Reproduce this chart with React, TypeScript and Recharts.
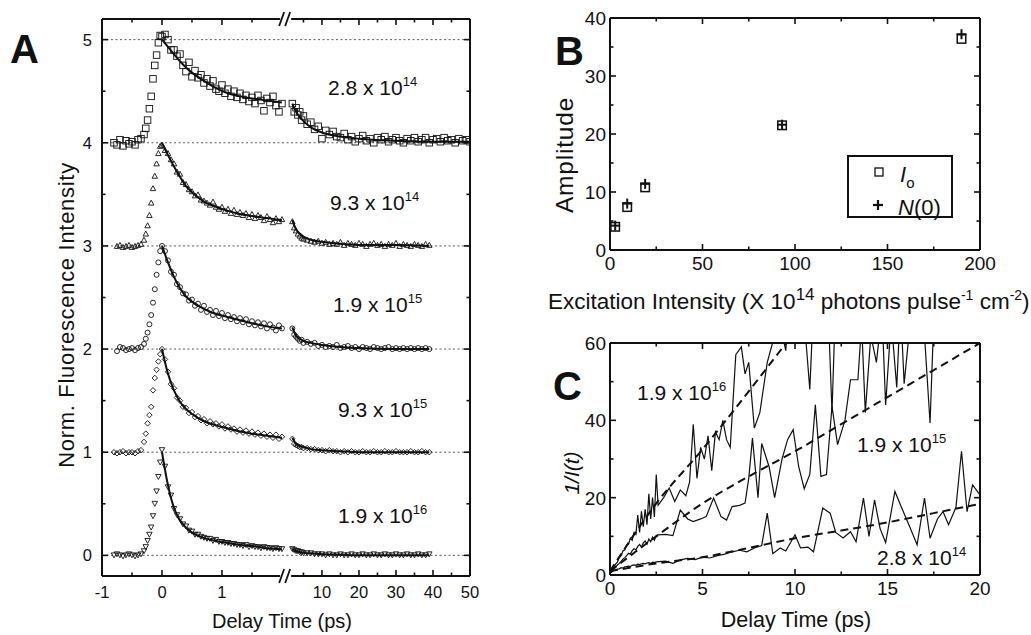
import React from 'react'
import { ComposedChart, Scatter, Line, XAxis, YAxis, ReferenceLine, ReferenceDot } from 'recharts'

const FONT = '"Liberation Sans", Arial, Helvetica, sans-serif'
const INK = '#111'

// ---------- panel A: normalized fluorescence decays (offset by 1 each) ----------
// delay times (ps) of the left, linear part of the broken axis
const A_T_LEFT = [
  -0.8, -0.75, -0.7, -0.65, -0.6, -0.55, -0.5, -0.45, -0.4, -0.35,
  -0.3, -0.27, -0.24, -0.21, -0.18, -0.15, -0.12, -0.09, -0.06, -0.03,
  0,
  0.05, 0.1, 0.15, 0.2, 0.25, 0.3, 0.35, 0.4, 0.45, 0.5,
  0.55, 0.6, 0.65, 0.7, 0.75, 0.8, 0.85, 0.9, 0.95, 1,
  1.05, 1.1, 1.15, 1.2, 1.25, 1.3, 1.35, 1.4, 1.45, 1.5,
  1.55, 1.6, 1.65, 1.7, 1.75, 1.8, 1.85, 1.9, 1.95, 2,
]
// delay times (ps) of the compressed part after the break
const A_T_RIGHT = [
  2, 2.5, 3, 3.5, 4, 4.5, 5, 6, 7, 8, 9, 10, 11, 12, 13, 14, 15, 16, 17, 18, 19, 20,
  21, 22, 23, 24, 25, 26, 27, 28, 29, 30, 31, 32, 33, 34, 35, 36, 37, 38, 39,
  40, 41, 42, 43, 44, 45, 46, 47, 48, 49, 50,
]
const A_FIT_T_LEFT = [0, 0.1, 0.2, 0.3, 0.4, 0.5, 0.7, 0.9, 1.1, 1.3, 1.5, 1.75, 2]
const A_FIT_T_RIGHT = [2, 3, 4, 5, 7, 10, 15, 20, 30, 39, 50]

const A_28E14_L = [
  4.0, 3.98, 4.03, 3.97, 4.02, 3.99, 4.01, 3.98, 4.03, 4.04,
  4.08, 4.14, 4.22, 4.33, 4.45, 4.62, 4.75, 4.85, 4.97, 5.04,
  5.03,
  5.05, 5.0, 4.9, 4.9, 4.84, 4.86, 4.75, 4.69, 4.78, 4.64,
  4.7, 4.63, 4.66, 4.58, 4.62, 4.55, 4.6, 4.52, 4.5, 4.56,
  4.48, 4.52, 4.45, 4.5, 4.44, 4.48, 4.42, 4.46, 4.4, 4.44,
  4.38, 4.46, 4.41, 4.31, 4.43, 4.39, 4.45, 4.36, 4.3, 4.38,
]
const A_28E14_R = [
  4.38, 4.3, 4.34, 4.27, 4.3, 4.22, 4.26, 4.18, 4.2, 4.13, 4.16, 4.04, 4.12, 4.08, 4.11, 4.06,
  4.05, 4.09, 4.03, 4.06, 4.01, 4.04, 4.07, 4.02, 4.04, 4.0, 4.05, 4.03, 4.06, 4.01, 4.03, 4.05,
  4.02, 4.0, 4.04, 4.02, 4.05, 4.01, 4.03, 4.05, 4.0, 4.03, 4.04, 4.01, 4.05, 4.02, 4.03, 4.0,
  4.04, 4.02, 4.03, 4.01,
]
const A_93E14_L = [
  null, 3.0, 3.01, 2.99, 3.0, 3.01, 2.99, 3.0, 3.01, 3.02,
  3.06, 3.12, 3.2, 3.3, 3.42, 3.56, 3.68, 3.8, 3.9, 3.97,
  3.98,
  3.93, 3.9, 3.84, 3.8, 3.72, 3.7, 3.62, 3.6, 3.55, 3.53,
  3.49, 3.5, 3.45, 3.44, 3.42, 3.4, 3.43, 3.38, 3.36, 3.38,
  3.34, 3.36, 3.32, 3.35, 3.31, 3.33, 3.3, 3.32, 3.28, 3.31,
  3.27, 3.3, 3.28, 3.25, 3.29, 3.26, 3.23, 3.27, 3.24, 3.26,
]
const A_93E14_R = [
  3.24, 3.18, 3.15, 3.12, 3.1, 3.08, 3.07, 3.06, 3.05, 3.04, 3.05, 3.03, 3.04, 3.02, 3.03, 3.02,
  3.04, 3.01, 3.03, 3.02, 3.01, 3.03, 3.02, 3.0, 3.02, 3.03, 3.01, 3.02, 3.0, 3.02, 3.01, 3.03,
  3.0, 3.02, 3.01, 3.0, 3.02, 3.01, 3.0, 3.02, 3.01,
]
const A_19E15_L = [
  null, 1.98, 2.02, 2.01, 1.99, 2.0, 2.01, 1.99, 2.01, 2.02,
  2.05, 2.1, 2.16, 2.24, 2.33, 2.45, 2.58, 2.72, 2.84, 2.95,
  3.0,
  2.95, 2.86, 2.75, 2.72, 2.63, 2.6, 2.54, 2.53, 2.47, 2.48,
  2.42, 2.44, 2.38, 2.42, 2.36, 2.38, 2.33, 2.37, 2.32, 2.35,
  2.3, 2.33, 2.29, 2.31, 2.27, 2.3, 2.26, 2.29, 2.24, 2.27,
  2.23, 2.26, 2.22, 2.25, 2.2, 2.24, 2.21, 2.18, 2.23, 2.2,
]
const A_19E15_R = [
  2.2, 2.14, 2.12, 2.1, 2.08, 2.09, 2.06, 2.07, 2.05, 2.06, 2.03, 2.04, 2.02, 2.03, 2.02, 2.04,
  2.01, 2.02, 2.03, 2.01, 2.02, 2.0, 2.02, 2.01, 2.0, 2.02, 2.01, 2.0, 2.01, 2.02, 2.0, 2.01,
  2.0, 2.01, 2.0, 2.01, 2.0, 2.01, 2.0, 2.01, 2.0,
]
const A_93E15_L = [
  1.0, 0.99, 1.0, 1.01, 0.99, 1.0, 1.0, 0.99, 1.01, 1.02,
  1.1, 1.18, 1.28, 1.36, 1.44, 1.6, 1.72, 1.8, 1.88, 1.95,
  2.0,
  1.9, 1.78, 1.66, 1.62, 1.53, 1.5, 1.44, 1.43, 1.38, 1.39,
  1.34, 1.35, 1.31, 1.32, 1.28, 1.3, 1.27, 1.28, 1.25, 1.27,
  1.23, 1.25, 1.22, 1.23, 1.2, 1.22, 1.19, 1.21, 1.18, 1.2,
  1.17, 1.19, 1.16, 1.18, 1.15, 1.17, 1.14, 1.17, 1.13, 1.15,
]
const A_93E15_R = [
  1.13, 1.08, 1.07, 1.06, 1.05, 1.05, 1.04, 1.04, 1.03, 1.03, 1.02, 1.02, 1.01, 1.02, 1.01, 1.01,
  1.0, 1.01, 1.0, 1.01, 1.0, 1.0, 1.01, 1.0, 1.0, 1.01, 1.0, 1.0, 1.01, 1.0, 1.0, 1.01,
  1.0, 1.0, 1.0, 1.01, 1.0, 1.0, 1.01, 1.0, 1.0,
]
const A_19E16_L = [
  0.0, 0.01, 0.0, -0.01, 0.0, 0.01, 0.0, -0.01, 0.0, 0.01,
  0.04, 0.08, 0.14, 0.2, 0.27, 0.38, 0.5, 0.62, 0.76, 0.9,
  1.02,
  0.86, 0.66, 0.58, 0.45, 0.39, 0.35, 0.3, 0.28, 0.24, 0.23,
  0.2, 0.2, 0.18, 0.17, 0.16, 0.16, 0.14, 0.15, 0.13, 0.13,
  0.12, 0.12, 0.11, 0.11, 0.1, 0.1, 0.09, 0.1, 0.08, 0.09,
  0.08, 0.08, 0.07, 0.08, 0.07, 0.07, 0.06, 0.07, 0.06, 0.06,
]
const A_19E16_R = [
  0.06, 0.05, 0.04, 0.04, 0.03, 0.03, 0.02, 0.02, 0.02, 0.01, 0.01, 0.01, 0.0, 0.01, 0.0, 0.0,
  0.01, 0.0, 0.0, 0.01, 0.0, 0.0, 0.01, 0.0, 0.0, 0.01, 0.0, 0.0, 0.01, 0.0, 0.0, 0.01,
  0.0, 0.0, 0.01, 0.0, 0.0, 0.01, 0.0, 0.0, 0.01,
]

const A_FIT_28E14_L = [5.0, 4.93, 4.86, 4.79, 4.73, 4.68, 4.6, 4.53, 4.48, 4.45, 4.43, 4.41, 4.39]
const A_FIT_28E14_R = [4.38, 4.3, 4.25, 4.21, 4.15, 4.1, 4.06, 4.04, 4.02, 4.01, 4.01]
const A_FIT_93E14_L = [4.0, 3.88, 3.77, 3.67, 3.58, 3.52, 3.43, 3.38, 3.34, 3.31, 3.29, 3.27, 3.25]
const A_FIT_93E14_R = [3.25, 3.16, 3.12, 3.09, 3.06, 3.04, 3.02, 3.01, 3.01, 3.0]
const A_FIT_19E15_L = [3.0, 2.84, 2.7, 2.59, 2.51, 2.46, 2.39, 2.34, 2.31, 2.28, 2.25, 2.22, 2.2]
const A_FIT_19E15_R = [2.21, 2.13, 2.1, 2.08, 2.06, 2.04, 2.02, 2.01, 2.0, 2.0]
const A_FIT_93E15_L = [2.0, 1.76, 1.6, 1.49, 1.42, 1.37, 1.3, 1.26, 1.23, 1.2, 1.18, 1.16, 1.14]
const A_FIT_93E15_R = [1.14, 1.08, 1.06, 1.05, 1.03, 1.02, 1.01, 1.0, 1.0, 1.0]
const A_FIT_19E16_L = [1.0, 0.68, 0.46, 0.34, 0.27, 0.22, 0.17, 0.14, 0.12, 0.1, 0.09, 0.07, 0.06]
const A_FIT_19E16_R = [0.06, 0.04, 0.03, 0.025, 0.02, 0.01, 0.005, 0, 0, 0]

const A_LABEL_BASE = ['2.8 x 10', '9.3 x 10', '1.9 x 10', '9.3 x 10', '1.9 x 10']
const A_LABEL_EXP = ['14', '14', '15', '15', '16']
const A_X_TICKS_LEFT = [-1, -0.5, 0, 0.5, 1, 1.5]
const A_X_LABELS_LEFT = ['-1', '', '0', '', '1', '']
const A_X_TICKS_RIGHT = [5, 10, 15, 20, 25, 30, 35, 40, 45, 50]
const A_X_LABELS_RIGHT = ['', '10', '', '20', '', '30', '', '40', '', '50']
const A_Y_TICKS = [0, 0.5, 1, 1.5, 2, 2.5, 3, 3.5, 4, 4.5, 5]
const A_Y_LABELS = ['0', '', '1', '', '2', '', '3', '', '4', '', '5']

// ---------- panel B: amplitudes vs excitation intensity ----------
const B_INTENSITY = [2.8, 9.3, 19, 93, 190]
const B_I0 = [4.0, 7.4, 10.8, 21.5, 36.4]
const B_N0 = [4.2, 8.0, 11.4, 21.6, 37.2]
const B_X_TICKS = [0, 25, 50, 75, 100, 125, 150, 175, 200]
const B_X_LABELS = ['0', '', '50', '', '100', '', '150', '', '200']
const B_Y_TICKS = [0, 5, 10, 15, 20, 25, 30, 35, 40]
const B_Y_LABELS = ['0', '', '10', '', '20', '', '30', '', '40']

// ---------- panel C: 1/I(t) vs delay time ----------
const C_T_28E14 = [
  0, 0.1, 0.2, 0.3, 0.4, 0.5, 0.6, 0.7, 0.8, 0.9, 1, 1.1, 1.2, 1.3, 1.4, 1.5, 1.6, 1.7, 1.8, 1.9, 2, 2.1, 2.2, 2.3, 2.4, 2.5,
  3.0, 3.4, 3.8, 4.2, 4.6, 5.0, 5.4, 5.8, 6.2, 6.6, 7.0, 7.4, 7.8, 8.2, 8.5, 8.8, 9.2, 9.5, 10.0, 10.3,
  10.7, 11.0, 11.5, 11.9, 12.2, 12.6, 13.0, 13.3, 13.7, 14.0, 14.3, 14.6, 14.9, 15.4, 15.8, 16.2, 16.6, 17.0, 17.3, 17.7,
  18.0, 18.3, 18.7, 19.0, 19.3, 19.6, 20.0,
]
const C_V_28E14 = [
  0.5, 0.8, 1.1, 1.3, 1.5, 1.6, 1.9, 1.8, 2.1, 2.2, 2.3, 2.2, 2.5, 2.6, 2.5, 2.8, 2.7, 2.9, 3.0, 2.9, 3.1, 3.2, 3.0, 3.3, 3.2, 3.4,
  3.6, 3.0, 3.9, 4.3, 4.0, 4.6, 4.4, 5.0, 5.4, 6.0, 6.4, 6.0, 7.0, 7.6, 16.0, 5.5, 7.0, 6.2, 10.4, 7.0,
  7.2, 6.0, 17.3, 16.0, 11.0, 9.6, 11.2, 8.6, 19.9, 10.0, 19.4, 12.0, 8.4, 21.6, 17.0, 12.5, 7.8, 19.9, 9.5, 14.5,
  16.4, 13.0, 17.5, 32.0, 16.4, 23.3, 20.7,
]
const C_T_19E15 = [
  0, 0.1, 0.2, 0.3, 0.4, 0.5, 0.6, 0.7, 0.8, 0.9, 1, 1.1, 1.2, 1.3, 1.4, 1.5, 1.6, 1.7, 1.8, 1.9, 2, 2.1, 2.2, 2.3, 2.4, 2.5,
  2.6, 3.0, 3.4, 3.8, 4.2, 4.5, 4.9, 5.2, 5.6, 6.0, 6.3, 6.6, 7.0, 7.3, 7.5, 7.7, 8.0, 8.2, 8.6, 8.9,
  9.3, 9.6, 9.9, 10.2, 10.5, 10.8, 11.1, 11.4, 11.7, 12.0, 12.3, 12.7, 13.0, 13.4, 13.6, 13.8, 14.1, 14.4, 14.7, 14.9,
  15.2, 15.5, 15.7, 15.9, 16.2, 16.6, 17.0, 17.3, 17.5, 18.0, 18.5, 19.0, 19.5, 20.0,
]
const C_V_19E15 = [
  0.5, 1.0, 1.5, 2.0, 2.6, 3.0, 3.5, 4.1, 4.5, 5.0, 5.6, 5.4, 6.3, 6.8, 6.5, 7.4, 7.9, 7.2, 8.3, 8.8, 8.0, 9.3, 8.6, 9.8, 9.0, 10.2,
  10.4, 10.5, 10.2, 16.8, 14.5, 13.8, 14.5, 15.1, 19.9, 15.1, 14.2, 17.7, 18.0, 18.6, 25.0, 35.4, 20.0, 34.0, 28.0, 20.0,
  30.0, 35.0, 37.6, 28.0, 22.3, 26.0, 44.0, 25.5, 26.0, 43.6, 33.7, 40.0, 50.5, 50.5, 65.0, 42.0, 62.0, 55.0, 68.0, 44.0,
  66.0, 48.5, 70.0, 49.5, 64.0, 72.0, 62.0, 39.3, 66.0, 70.0, 64.0, 75.0, 66.0, 72.0,
]
const C_T_19E16 = [
  0, 0.1, 0.2, 0.3, 0.4, 0.5, 0.6, 0.7, 0.8, 0.9, 1, 1.1, 1.2, 1.3, 1.4, 1.5, 1.6, 1.7, 1.8, 1.9, 2, 2.1, 2.2, 2.3, 2.4, 2.5,
  2.6, 2.9, 3.2, 3.5, 3.8, 4.1, 4.3, 4.5, 4.7, 4.9, 5.1, 5.3, 5.5, 5.7, 5.9, 6.1, 6.3, 6.5, 6.8, 7.1,
  7.3, 7.5, 7.8, 8.1, 8.5, 8.9, 9.2, 9.5, 9.7, 10.0, 10.4, 10.8, 11.0, 11.4, 11.8, 12.0, 12.2, 12.6, 13.0, 14.0,
  15.0, 16.0, 17.0, 18.0, 19.0, 20.0,
]
const C_V_19E16 = [
  0.5, 1.2, 2.0, 2.8, 3.3, 4.5, 5.0, 6.2, 6.5, 7.8, 8.0, 9.5, 9.0, 11.0, 10.5, 15.5, 11.0, 16.5, 12.5, 17.0, 13.0, 21.0, 14.5, 20.0, 15.0, 26.0,
  18.0, 20.0, 22.5, 19.0, 22.0, 20.5, 24.0, 39.0, 25.0, 33.0, 30.0, 36.0, 27.0, 37.0, 35.0, 40.0, 35.0, 33.0, 57.0, 59.0,
  52.0, 55.0, 38.0, 42.0, 55.0, 62.0, 65.0, 58.0, 70.0, 66.0, 72.0, 48.0, 70.0, 75.0, 68.0, 42.0, 72.0, 78.0, 70.0, 80.0,
  75.0, 85.0, 80.0, 90.0, 85.0, 95.0,
]
const C_FIT_T = [0, 2.5, 5, 7.5, 10, 12.5, 15, 17.5, 20]
const C_FIT_28E14 = [1, 3, 4.6, 7, 9.5, 11.5, 13.6, 16, 18.4]
const C_FIT_19E15 = [1, 10, 18.5, 25.5, 32, 39, 46, 53, 60]
const C_FIT_19E16 = [1, 18.5, 32.5, 47.5, 63]
const C_LABEL_BASE = ['1.9 x 10', '1.9 x 10', '2.8 x 10']
const C_LABEL_EXP = ['16', '15', '14']
const C_X_TICKS = [0, 2.5, 5, 7.5, 10, 12.5, 15, 17.5, 20]
const C_X_LABELS = ['0', '', '5', '', '10', '', '15', '', '20']
const C_Y_TICKS = [0, 10, 20, 30, 40, 50, 60]
const C_Y_LABELS = ['0', '', '20', '', '40', '', '60']

// ---------- broken axis mapping for panel A ----------
const RIGHT_ORIGIN = 2.05 // axis position of t = 0 in the compressed part
const RIGHT_SCALE = 0.0617 // length of 1 ps there, in left-part units
const rightU = (t: number) => RIGHT_ORIGIN + t * RIGHT_SCALE
const A_U_MIN = -1
const A_U_MAX = rightU(50)
const A_BREAK_U = 2.07
const A_Y_MIN = -0.2
const A_Y_MAX = 5.2

const A_X_TICKS = [...A_X_TICKS_LEFT, ...A_X_TICKS_RIGHT.map(rightU)]
const A_X_LABELS = [...A_X_LABELS_LEFT, ...A_X_LABELS_RIGHT]

const leftPts = (vals: (number | null)[]) =>
  A_T_LEFT.map((t, i) => ({ u: t, y: vals[i] })).filter((d) => d.y !== null && d.y !== undefined)
const rightPts = (vals: number[]) => vals.map((y, i) => ({ u: rightU(A_T_RIGHT[i]), y }))
const fitLeft = (vals: number[]) => vals.map((y, i) => ({ u: A_FIT_T_LEFT[i], y }))
const fitRight = (vals: number[]) => vals.map((y, i) => ({ u: rightU(A_FIT_T_RIGHT[i]), y }))

// ---------- markers (hollow, so the fitted curves show through) ----------
const square = (s: number, w = 0.9, fill = 'none') => (p: any) =>
  <rect x={p.cx - s / 2} y={p.cy - s / 2} width={s} height={s} fill={fill} stroke={INK} strokeWidth={w} />
const triangle = (s: number, down = false) => (p: any) => {
  const h = s * 0.9
  const pts = down
    ? `${p.cx - s / 2},${p.cy - h / 2} ${p.cx + s / 2},${p.cy - h / 2} ${p.cx},${p.cy + h / 2}`
    : `${p.cx - s / 2},${p.cy + h / 2} ${p.cx + s / 2},${p.cy + h / 2} ${p.cx},${p.cy - h / 2}`
  return <polygon points={pts} fill="none" stroke={INK} strokeWidth={0.9} />
}
const circle = (r: number) => (p: any) => <circle cx={p.cx} cy={p.cy} r={r} fill="none" stroke={INK} strokeWidth={0.9} />
const diamond = (s: number) => (p: any) => (
  <polygon
    points={`${p.cx},${p.cy - s / 2} ${p.cx + s / 2},${p.cy} ${p.cx},${p.cy + s / 2} ${p.cx - s / 2},${p.cy}`}
    fill="none"
    stroke={INK}
    strokeWidth={0.9}
  />
)
const plus = (s: number) => (p: any) => (
  <g stroke={INK} strokeWidth={2}>
    <line x1={p.cx - s / 2} x2={p.cx + s / 2} y1={p.cy} y2={p.cy} />
    <line x1={p.cx} x2={p.cx} y1={p.cy - s / 2} y2={p.cy + s / 2} />
  </g>
)

const A_SERIES = [
  { l: A_28E14_L, r: A_28E14_R, fl: A_FIT_28E14_L, fr: A_FIT_28E14_R, shape: square(6.5) },
  { l: A_93E14_L, r: A_93E14_R, fl: A_FIT_93E14_L, fr: A_FIT_93E14_R, shape: triangle(5.5) },
  { l: A_19E15_L, r: A_19E15_R, fl: A_FIT_19E15_L, fr: A_FIT_19E15_R, shape: circle(2.5) },
  { l: A_93E15_L, r: A_93E15_R, fl: A_FIT_93E15_L, fr: A_FIT_93E15_R, shape: diamond(5.5) },
  { l: A_19E16_L, r: A_19E16_R, fl: A_FIT_19E16_L, fr: A_FIT_19E16_R, shape: triangle(5.5, true) },
]

// ---------- inward ticks, labels outside ----------
type Side = 'left' | 'right' | 'top' | 'bottom'
function makeTick(side: Side, ticks: number[], labels: string[], fontSize: number, gap: number, withText = true) {
  return function TickMark(p: any) {
    const v = Number(p.payload?.value)
    const i = ticks.findIndex((t) => Math.abs(t - v) < 1e-6)
    const lab = i >= 0 ? labels[i] : ''
    const len = lab !== '' ? 6 : 3.5
    const x = Number(p.x)
    const y = Number(p.y)
    let x2 = x
    let y2 = y
    let tx = x
    let ty = y
    let anchor: 'middle' | 'end' = 'middle'
    if (side === 'bottom') {
      y2 = y - len
      ty = y + gap
    } else if (side === 'top') {
      y2 = y + len
    } else if (side === 'left') {
      x2 = x + len
      tx = x - gap
      ty = y + fontSize * 0.36
      anchor = 'end'
    } else {
      x2 = x - len
    }
    return (
      <g>
        <line x1={x} y1={y} x2={x2} y2={y2} stroke={INK} strokeWidth={1.6} />
        {withText && lab !== '' && (
          <text x={tx} y={ty} textAnchor={anchor} fontSize={fontSize} fontFamily={FONT} fill={INK}>
            {lab}
          </text>
        )}
      </g>
    )
  }
}

const BreakMark = (p: any) => (
  <g>
    <rect x={p.cx - 6} y={p.cy - 2.5} width={11} height={5} fill="#fff" />
    <line x1={p.cx - 7} y1={p.cy + 7} x2={p.cx - 2} y2={p.cy - 7} stroke={INK} strokeWidth={1.8} />
    <line x1={p.cx - 1} y1={p.cy + 7} x2={p.cx + 4} y2={p.cy - 7} stroke={INK} strokeWidth={1.8} />
  </g>
)

const axisLine = { stroke: INK, strokeWidth: 2 }

function Sci({ base, exp, size, supSize }: { base: string; exp: string; size: number; supSize: number }) {
  return (
    <span style={{ fontSize: size }}>
      {base}
      <span style={{ fontSize: supSize, position: 'relative', top: -size * 0.42 }}>{exp}</span>
    </span>
  )
}

const abs = (left: number, top: number, extra: React.CSSProperties = {}): React.CSSProperties => ({
  position: 'absolute',
  left,
  top,
  lineHeight: 1,
  whiteSpace: 'nowrap',
  color: INK,
  ...extra,
})
const vertical = (cx: number, cy: number, size: number, extra: React.CSSProperties = {}): React.CSSProperties => ({
  position: 'absolute',
  left: cx,
  top: cy,
  fontSize: size,
  lineHeight: 1,
  whiteSpace: 'nowrap',
  color: INK,
  transform: 'translate(-50%, -50%) rotate(-90deg)',
  ...extra,
})

const A_LABEL_POS = [
  [328, 77],
  [330, 192],
  [333, 294],
  [338, 399],
  [338, 505],
]
const C_LABEL_POS = [
  [637, 382],
  [857, 434],
  [877, 547],
]

function PanelA() {
  return (
    <ComposedChart width={480} height={635} margin={{ top: 18, right: 9, bottom: 0, left: 0 }}>
      <XAxis
        dataKey="u"
        type="number"
        domain={[A_U_MIN, A_U_MAX]}
        ticks={A_X_TICKS}
        interval={0}
        allowDataOverflow
        height={59}
        tickSize={0}
        tickMargin={0}
        tickLine={false}
        axisLine={axisLine}
        tick={makeTick('bottom', A_X_TICKS, A_X_LABELS, 16.5, 22)}
      />
      <XAxis
        xAxisId="top"
        orientation="top"
        dataKey="u"
        type="number"
        domain={[A_U_MIN, A_U_MAX]}
        ticks={A_X_TICKS}
        interval={0}
        allowDataOverflow
        height={1}
        tickSize={0}
        tickMargin={0}
        tickLine={false}
        axisLine={axisLine}
        tick={makeTick('top', A_X_TICKS, A_X_LABELS, 16.5, 0, false)}
      />
      <YAxis
        dataKey="y"
        type="number"
        domain={[A_Y_MIN, A_Y_MAX]}
        ticks={A_Y_TICKS}
        interval={0}
        allowDataOverflow
        width={102}
        tickSize={0}
        tickMargin={0}
        tickLine={false}
        axisLine={axisLine}
        tick={makeTick('left', A_Y_TICKS, A_Y_LABELS, 16.5, 10)}
      />
      <YAxis
        yAxisId="r"
        orientation="right"
        dataKey="y"
        type="number"
        domain={[A_Y_MIN, A_Y_MAX]}
        ticks={A_Y_TICKS}
        interval={0}
        allowDataOverflow
        width={1}
        tickSize={0}
        tickMargin={0}
        tickLine={false}
        axisLine={axisLine}
        tick={makeTick('right', A_Y_TICKS, A_Y_LABELS, 16.5, 0, false)}
      />
      {[0, 1, 2, 3, 4, 5].map((k) => (
        <ReferenceLine key={`g${k}`} y={k} stroke="#333" strokeWidth={0.8} strokeDasharray="2 2.5" />
      ))}
      {A_SERIES.map((s, k) => (
        <Scatter key={`sl${k}`} data={leftPts(s.l)} shape={s.shape} isAnimationActive={false} />
      ))}
      {A_SERIES.map((s, k) => (
        <Scatter key={`sr${k}`} data={rightPts(s.r)} shape={s.shape} isAnimationActive={false} />
      ))}
      {A_SERIES.map((s, k) => (
        <Line
          key={`fl${k}`}
          data={fitLeft(s.fl)}
          dataKey="y"
          type="monotone"
          stroke={INK}
          strokeWidth={2}
          dot={false}
          isAnimationActive={false}
        />
      ))}
      {A_SERIES.map((s, k) => (
        <Line
          key={`fr${k}`}
          data={fitRight(s.fr)}
          dataKey="y"
          type="monotone"
          stroke={INK}
          strokeWidth={2}
          dot={false}
          isAnimationActive={false}
        />
      ))}
      <ReferenceDot x={A_BREAK_U} y={A_Y_MAX} r={0} ifOverflow="visible" shape={BreakMark} />
      <ReferenceDot x={A_BREAK_U} y={A_Y_MIN} r={0} ifOverflow="visible" shape={BreakMark} />
    </ComposedChart>
  )
}

function PanelB() {
  const i0 = B_INTENSITY.map((x, i) => ({ x, y: B_I0[i] }))
  const n0 = B_INTENSITY.map((x, i) => ({ x, y: B_N0[i] }))
  return (
    <ComposedChart width={491} height={300} margin={{ top: 17, right: 50, bottom: 0, left: 0 }}>
      <XAxis
        dataKey="x"
        type="number"
        domain={[0, 200]}
        ticks={B_X_TICKS}
        interval={0}
        allowDataOverflow
        height={50}
        tickSize={0}
        tickMargin={0}
        tickLine={false}
        axisLine={axisLine}
        tick={makeTick('bottom', B_X_TICKS, B_X_LABELS, 19, 20)}
      />
      <XAxis
        xAxisId="top"
        orientation="top"
        dataKey="x"
        type="number"
        domain={[0, 200]}
        ticks={B_X_TICKS}
        interval={0}
        allowDataOverflow
        height={1}
        tickSize={0}
        tickMargin={0}
        tickLine={false}
        axisLine={axisLine}
        tick={makeTick('top', B_X_TICKS, B_X_LABELS, 19, 0, false)}
      />
      <YAxis
        dataKey="y"
        type="number"
        domain={[0, 40]}
        ticks={B_Y_TICKS}
        interval={0}
        allowDataOverflow
        width={70}
        tickSize={0}
        tickMargin={0}
        tickLine={false}
        axisLine={axisLine}
        tick={makeTick('left', B_Y_TICKS, B_Y_LABELS, 19, 4)}
      />
      <YAxis
        yAxisId="r"
        orientation="right"
        dataKey="y"
        type="number"
        domain={[0, 40]}
        ticks={B_Y_TICKS}
        interval={0}
        allowDataOverflow
        width={1}
        tickSize={0}
        tickMargin={0}
        tickLine={false}
        axisLine={axisLine}
        tick={makeTick('right', B_Y_TICKS, B_Y_LABELS, 19, 0, false)}
      />
      <Scatter data={i0} shape={square(8.5, 1.5, '#fff')} isAnimationActive={false} />
      <Scatter data={n0} shape={plus(10)} isAnimationActive={false} />
    </ComposedChart>
  )
}

function PanelC() {
  const pts = (ts: number[], vs: number[]) => vs.map((v, i) => ({ t: ts[i], v }))
  const noisy = [
    pts(C_T_28E14, C_V_28E14),
    pts(C_T_19E15, C_V_19E15),
    pts(C_T_19E16, C_V_19E16),
  ]
  const fits = [pts(C_FIT_T, C_FIT_28E14), pts(C_FIT_T, C_FIT_19E15), pts(C_FIT_T, C_FIT_19E16)]
  return (
    <ComposedChart width={491} height={315} margin={{ top: 22, right: 50, bottom: 0, left: 0 }}>
      <XAxis
        dataKey="t"
        type="number"
        domain={[0, 20]}
        ticks={C_X_TICKS}
        interval={0}
        allowDataOverflow
        height={60}
        tickSize={0}
        tickMargin={0}
        tickLine={false}
        axisLine={axisLine}
        tick={makeTick('bottom', C_X_TICKS, C_X_LABELS, 19, 20)}
      />
      <XAxis
        xAxisId="top"
        orientation="top"
        dataKey="t"
        type="number"
        domain={[0, 20]}
        ticks={C_X_TICKS}
        interval={0}
        allowDataOverflow
        height={1}
        tickSize={0}
        tickMargin={0}
        tickLine={false}
        axisLine={axisLine}
        tick={makeTick('top', C_X_TICKS, C_X_LABELS, 19, 0, false)}
      />
      <YAxis
        dataKey="v"
        type="number"
        domain={[0, 60]}
        ticks={C_Y_TICKS}
        interval={0}
        allowDataOverflow
        width={70}
        tickSize={0}
        tickMargin={0}
        tickLine={false}
        axisLine={axisLine}
        tick={makeTick('left', C_Y_TICKS, C_Y_LABELS, 19, 4)}
      />
      <YAxis
        yAxisId="r"
        orientation="right"
        dataKey="v"
        type="number"
        domain={[0, 60]}
        ticks={C_Y_TICKS}
        interval={0}
        allowDataOverflow
        width={1}
        tickSize={0}
        tickMargin={0}
        tickLine={false}
        axisLine={axisLine}
        tick={makeTick('right', C_Y_TICKS, C_Y_LABELS, 19, 0, false)}
      />
      {noisy.map((d, k) => (
        <Line
          key={`n${k}`}
          data={d}
          dataKey="v"
          type="linear"
          stroke={INK}
          strokeWidth={1.2}
          dot={false}
          isAnimationActive={false}
        />
      ))}
      {fits.map((d, k) => (
        <Line
          key={`f${k}`}
          data={d}
          dataKey="v"
          type="monotone"
          stroke={INK}
          strokeWidth={2}
          strokeDasharray="8 5"
          dot={false}
          isAnimationActive={false}
        />
      ))}
    </ComposedChart>
  )
}

export default function App() {
  return (
    <div
      style={{
        position: 'absolute',
        left: 0,
        top: 0,
        width: 1031,
        height: 635,
        background: '#fff',
        fontFamily: FONT,
        overflow: 'hidden',
      }}
    >
      <div style={{ position: 'absolute', left: 0, top: 0 }}>
        <PanelA />
      </div>
      <div style={{ position: 'absolute', left: 540, top: 0 }}>
        <PanelB />
      </div>
      <div style={{ position: 'absolute', left: 540, top: 320 }}>
        <PanelC />
      </div>

      {/* panel letters */}
      <div style={abs(10, 29, { fontSize: 40, fontWeight: 700 })}>A</div>
      <div style={abs(555, 31, { fontSize: 40, fontWeight: 700 })}>B</div>
      <div style={abs(553, 366, { fontSize: 40, fontWeight: 700 })}>C</div>

      {/* panel A texts */}
      <div style={vertical(67, 315, 22, { letterSpacing: 0.7 })}>Norm. Fluorescence Intensity</div>
      <div style={abs(282, 611, { fontSize: 20, transform: 'translateX(-50%)' })}>Delay Time (ps)</div>
      {A_LABEL_BASE.map((b, i) => (
        <div key={`al${i}`} style={abs(A_LABEL_POS[i][0], A_LABEL_POS[i][1])}>
          <Sci base={b} exp={A_LABEL_EXP[i]} size={21} supSize={13} />
        </div>
      ))}

      {/* panel B texts */}
      <div style={vertical(565, 155, 24.5, { letterSpacing: 0.8 })}>Amplitude</div>
      <div style={abs(548, 291, { fontSize: 22.5 })}>
        Excitation Intensity (X 10
        <span style={{ fontSize: 17, position: 'relative', top: -9 }}>14</span> photons pulse
        <span style={{ fontSize: 14, position: 'relative', top: -9 }}>-1</span> cm
        <span style={{ fontSize: 14, position: 'relative', top: -9 }}>-2</span>)
      </div>
      <div
        style={{
          position: 'absolute',
          left: 847,
          top: 155,
          width: 106,
          height: 63,
          boxSizing: 'border-box',
          border: `2px solid ${INK}`,
          background: '#fff',
        }}
      >
        <svg style={{ position: 'absolute', left: 25, top: 10 }} width={10} height={10}>
          <rect x={1} y={1} width={8} height={8} fill="#fff" stroke={INK} strokeWidth={1.3} />
        </svg>
        <div style={abs(51, 7, { fontSize: 22 })}>
          <i>I</i>
          <span style={{ fontSize: 15, position: 'relative', top: 6 }}>o</span>
        </div>
        <svg style={{ position: 'absolute', left: 22, top: 41 }} width={14} height={14}>
          <line x1={2} x2={12} y1={7} y2={7} stroke={INK} strokeWidth={2.2} />
          <line x1={7} x2={7} y1={2} y2={12} stroke={INK} strokeWidth={2.2} />
        </svg>
        <div style={abs(49, 40, { fontSize: 22 })}>
          <i>N</i>(0)
        </div>
      </div>

      {/* panel C texts */}
      <div style={vertical(571, 473, 21, { fontStyle: 'italic' })}>1/I(t)</div>
      <div style={abs(796, 610, { fontSize: 21.5, transform: 'translateX(-50%)' })}>Delay Time (ps)</div>
      {C_LABEL_BASE.map((b, i) => (
        <div key={`cl${i}`} style={abs(C_LABEL_POS[i][0], C_LABEL_POS[i][1])}>
          <Sci base={b} exp={C_LABEL_EXP[i]} size={21} supSize={13} />
        </div>
      ))}
    </div>
  )
}
